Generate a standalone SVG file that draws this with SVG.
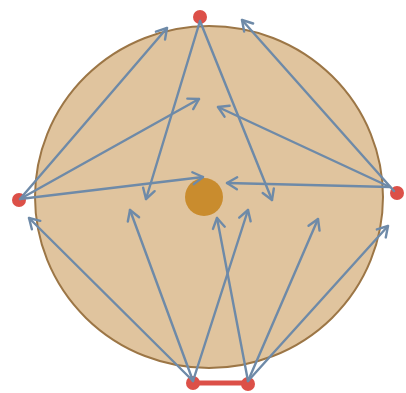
<svg xmlns="http://www.w3.org/2000/svg" width="406" height="393" viewBox="0 0 406 393">
<style>
.conn{fill:none;stroke:#6e8aa8;stroke-width:2.4;stroke-linecap:round}
.pt{fill:#dc5048}
</style>
<defs>
<marker id="ah" viewBox="-12 -8 14 16" refX="0" refY="0" markerWidth="14" markerHeight="16" markerUnits="userSpaceOnUse" orient="auto">
<path d="M-10,-6 L0,0 L-10,6" fill="none" stroke="#6e8aa8" stroke-width="2.4" stroke-linecap="round" stroke-linejoin="round"/>
</marker>
</defs>
<rect width="406" height="393" fill="#ffffff"/>
<g id="disc">
<ellipse cx="209" cy="197" rx="174" ry="171" fill="#e0c49e" stroke="#9c7646" stroke-width="2"/>
</g>
<g id="center">
<circle cx="204" cy="197" r="19" fill="#c98c2e"/>
</g>
<g id="bar">
<line x1="193" y1="383" x2="248" y2="383" stroke="#dc5048" stroke-width="5"/>
</g>
<g id="top"><circle class="pt" cx="200" cy="17" r="7"/></g>
<g id="left"><circle class="pt" cx="19" cy="200" r="7"/></g>
<g id="right"><circle class="pt" cx="397" cy="193" r="7"/></g>
<g id="bottom-left"><circle class="pt" cx="193" cy="383" r="7"/></g>
<g id="bottom-right"><circle class="pt" cx="248" cy="384" r="7"/></g>
<g id="connectors">
<line class="conn" x1="20" y1="199" x2="167" y2="28" marker-end="url(#ah)"/>
<line class="conn" x1="20" y1="199" x2="199" y2="99" marker-end="url(#ah)"/>
<line class="conn" x1="20" y1="199" x2="203" y2="177" marker-end="url(#ah)"/>
<line class="conn" x1="200" y1="21" x2="146" y2="199" marker-end="url(#ah)"/>
<line class="conn" x1="200" y1="21" x2="272" y2="200" marker-end="url(#ah)"/>
<line class="conn" x1="394" y1="191" x2="242" y2="20" marker-end="url(#ah)"/>
<line class="conn" x1="390" y1="187" x2="218" y2="107" marker-end="url(#ah)"/>
<line class="conn" x1="390" y1="187" x2="227" y2="183" marker-end="url(#ah)"/>
<line class="conn" x1="193" y1="381" x2="29" y2="218" marker-end="url(#ah)"/>
<line class="conn" x1="193" y1="381" x2="130" y2="210" marker-end="url(#ah)"/>
<line class="conn" x1="193" y1="381" x2="248" y2="210" marker-end="url(#ah)"/>
<line class="conn" x1="248" y1="381" x2="217" y2="218" marker-end="url(#ah)"/>
<line class="conn" x1="248" y1="381" x2="318" y2="219" marker-end="url(#ah)"/>
<line class="conn" x1="248" y1="381" x2="388" y2="226" marker-end="url(#ah)"/>
</g>
</svg>
